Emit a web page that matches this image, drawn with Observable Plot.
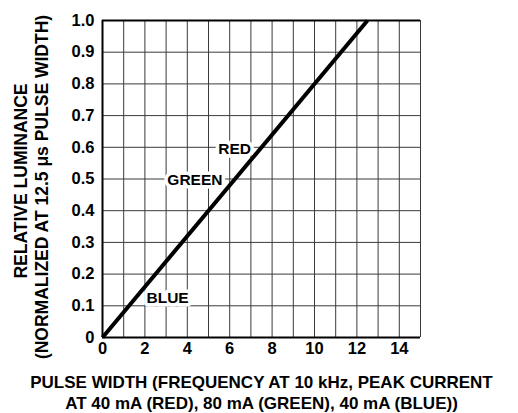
<!DOCTYPE html>
<html><head><meta charset="utf-8">
<script src="https://cdn.jsdelivr.net/npm/d3@7"></script>
<script src="https://cdn.jsdelivr.net/npm/@observablehq/plot@0.6"></script>
<style>body{margin:0;background:#fff} svg{display:block}</style>
</head><body><div id="chart"></div>
<script>
// Data
const pulseWidth = [0, 12.5];
const luminance = [0, 1.0];
const labelNames = ["RED", "GREEN", "BLUE"];
const labelX = [6.23, 4.36, 3.07];
const labelY = [0.595, 0.498, 0.123];
const xTicks = [0, 2, 4, 6, 8, 10, 12, 14];
const xGrid = [0, 1, 2, 3, 4, 5, 6, 7, 8, 9, 10, 11, 12, 13, 14, 15];
const yTicks = [0, 0.1, 0.2, 0.3, 0.4, 0.5, 0.6, 0.7, 0.8, 0.9, 1.0];
const yTickLabels = ["0", "0.1", "0.2", "0.3", "0.4", "0.5", "0.6", "0.7", "0.8", "0.9", "1.0"];
const xTitle = "PULSE WIDTH (FREQUENCY AT 10 kHz, PEAK CURRENT\nAT 40 mA (RED), 80 mA (GREEN), 40 mA (BLUE))";
const yTitle1 = "RELATIVE LUMINANCE";
const yTitle2 = "(NORMALIZED AT 12.5 μs PULSE WIDTH)";

const curve = pulseWidth.map((x, i) => ({x, y: luminance[i]}));
const labels = labelNames.map((name, i) => ({name, x: labelX[i], y: labelY[i]}));

const ff = "'Liberation Sans', Arial, Helvetica, sans-serif";

const chart = Plot.plot({
  width: 518,
  height: 413,
  marginLeft: 102,
  marginRight: 98,
  marginTop: 20,
  marginBottom: 76,
  style: {fontFamily: ff, fontWeight: "bold", fontSize: "16px", color: "#000", background: "#fff"},
  x: {domain: [0, 15]},
  y: {domain: [0, 1]},
  marks: [
    Plot.ruleX(xGrid, {stroke: "#3a3a3a", strokeWidth: 1}),
    Plot.ruleY(yTicks, {stroke: "#3a3a3a", strokeWidth: 1}),
    Plot.ruleX([0], {stroke: "#000", strokeWidth: 2}),
    Plot.ruleY([0, 1], {stroke: "#000", strokeWidth: 2}),
    Plot.line(curve, {x: "x", y: "y", stroke: "#000", strokeWidth: 4, strokeLinecap: "butt"}),
    Plot.text(labels, {x: "x", y: "y", text: "name", fill: "#000", stroke: "#fff", strokeWidth: 7, fontSize: 15.5, fontWeight: "bold", fontFamily: ff}),
    Plot.axisX({ticks: xTicks, tickSize: 0, tickPadding: 5, fontSize: 16.5, fontWeight: "bold", label: null}),
    Plot.axisY({ticks: yTicks, tickSize: 0, tickPadding: 8, fontSize: 16.5, fontWeight: "bold", label: null,
      tickFormat: (d) => yTickLabels[yTicks.indexOf(d)]}),
    Plot.text([xTitle], {frameAnchor: "bottom", dy: 36, lineAnchor: "top", lineHeight: 1.22, fontSize: 17, fontWeight: "bold", fontFamily: ff, textAnchor: "middle"}),
    Plot.text([yTitle1], {frameAnchor: "left", dx: -81, dy: 2, rotate: -90, fontSize: 17.5, fontWeight: "bold", fontFamily: ff, textAnchor: "middle"}),
    Plot.text([yTitle2], {frameAnchor: "left", dx: -60, dy: 8, rotate: -90, fontSize: 17.5, fontWeight: "bold", fontFamily: ff, textAnchor: "middle"})
  ]
});
document.getElementById("chart").appendChild(chart);
</script>
</body></html>
